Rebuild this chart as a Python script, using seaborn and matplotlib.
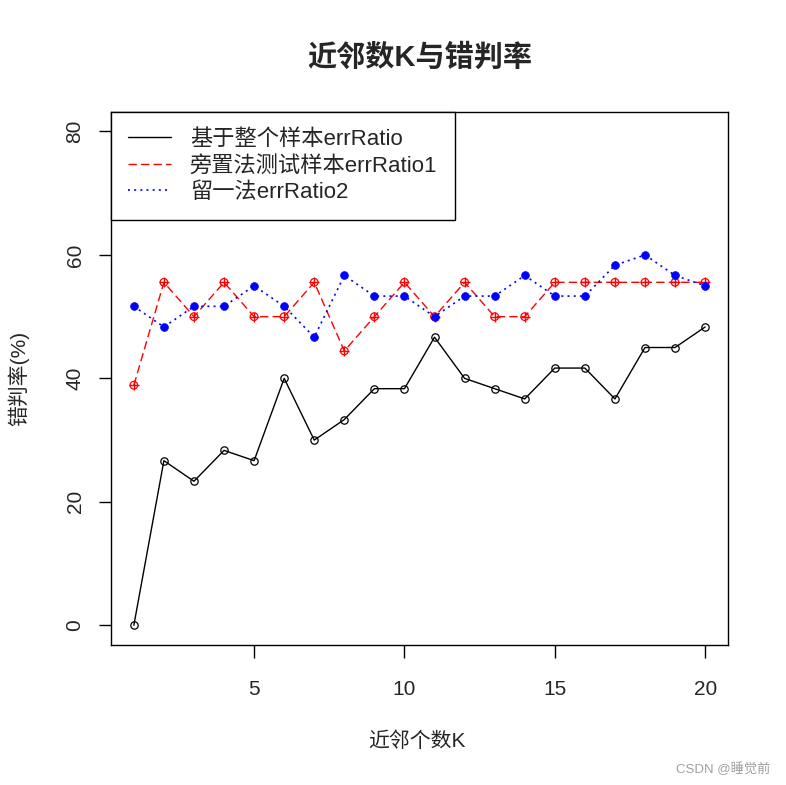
import numpy as np
import pandas as pd
import matplotlib
matplotlib.use("Agg")
import matplotlib.pyplot as plt
import seaborn as sns
from matplotlib.lines import Line2D

# error rates (%) for k = 1..20
k = list(range(1, 21))
err_all = [0, 26.67, 23.33, 28.33, 26.67, 40, 30, 33.33, 38.33, 38.33,
           46.67, 40, 38.33, 36.67, 41.67, 41.67, 36.67, 45, 45, 48.33]
err_holdout = [38.89, 55.56, 50, 55.56, 50, 50, 55.56, 44.44, 50, 55.56,
               50, 55.56, 50, 50, 55.56, 55.56, 55.56, 55.56, 55.56, 55.56]
err_loo = [51.67, 48.33, 51.67, 51.67, 55, 51.67, 46.67, 56.67, 53.33, 53.33,
           50, 53.33, 53.33, 56.67, 53.33, 53.33, 58.33, 60, 56.67, 55]
legend_labels = ["基于整个样本errRatio", "旁置法测试样本errRatio1", "留一法errRatio2"]
x_ticks = [5, 10, 15, 20]
y_ticks = [0, 20, 40, 60, 80]

sns.set_theme(style="ticks")
plt.rcParams['font.family'] = ['Liberation Sans', 'Noto Sans CJK SC', 'DejaVu Sans']
cjk = ['Liberation Sans', 'Noto Sans CJK SC', 'DejaVu Sans']

df = pd.DataFrame({"k": k, "all": err_all, "hold": err_holdout, "loo": err_loo})

fig = plt.figure(figsize=(7.86, 7.85), dpi=100)
ax = fig.add_axes([0.1412, 0.1783, 0.785, 0.6794])

sns.lineplot(data=df, x="k", y="all", color="black", linewidth=1.0,
             marker="o", markersize=5.3, markerfacecolor="none",
             markeredgecolor="black", markeredgewidth=0.9, ax=ax)
sns.lineplot(data=df, x="k", y="hold", color="red", linewidth=1.0,
             dashes=False, ax=ax)
ax.lines[-1].set_dashes((6, 3))
sns.scatterplot(data=df, x="k", y="hold", marker="o", s=30, facecolor="none",
                edgecolor="red", linewidth=0.9, ax=ax, zorder=3)
sns.scatterplot(data=df, x="k", y="hold", marker="+", s=60, color="red",
                linewidth=1.0, ax=ax, zorder=3)
sns.lineplot(data=df, x="k", y="loo", color="blue", linewidth=1.2, ax=ax)
ax.lines[-1].set_dashes((1.2, 2.5))
sns.scatterplot(data=df, x="k", y="loo", marker="o", s=32, color="blue",
                edgecolor="blue", ax=ax, zorder=4)

ax.set_xlim(0.24, 20.76)
ax.set_ylim(-3.2, 83.2)
ax.set_xticks(x_ticks)
ax.set_yticks(y_ticks)
ax.tick_params(axis="both", length=9, width=1, color="black", labelsize=15,
               direction="out")
ax.tick_params(axis="x", pad=16)
ax.tick_params(axis="y", pad=10)
for lbl in ax.get_yticklabels():
    lbl.set_rotation(90)
    lbl.set_va("center")
for sp in ax.spines.values():
    sp.set_visible(True)
    sp.set_color("black")
    sp.set_linewidth(1.0)

ax.set_xlabel("")
ax.set_ylabel("")
fig.text(0.531, 1 - 741.7 / 785, "近邻个数K", ha="center", va="center",
         fontsize=15, family=cjk)
fig.text(19 / 786, 1 - 378 / 785, "错判率(%)", ha="center", va="center",
         rotation=90, fontsize=15, family=cjk)
fig.text(0.534, 1 - 58 / 785, "近邻数K与错判率", ha="center", va="center",
         fontsize=21, fontweight="bold", family=cjk)
fig.text(0.98, 1 - 769 / 785, "CSDN @睡觉前", ha="right", va="center",
         fontsize=9.5, color="#a0a0a0", family=cjk)

handles = [
    Line2D([], [], color="black", linewidth=1.0),
    Line2D([], [], color="red", linewidth=1.0, dashes=(6, 3)),
    Line2D([], [], color="blue", linewidth=1.2, dashes=(1.2, 2.5)),
]
leg = ax.legend(handles, legend_labels, loc="upper left",
                bbox_to_anchor=(0, 1), borderaxespad=0, fancybox=False,
                framealpha=1, edgecolor="black",
                handlelength=1.9, handletextpad=0.87, labelspacing=0.24,
                borderpad=0.78, prop={"family": cjk, "size": 16})
leg.get_frame().set_linewidth(1.0)

fig.savefig("out.png", dpi=100)
